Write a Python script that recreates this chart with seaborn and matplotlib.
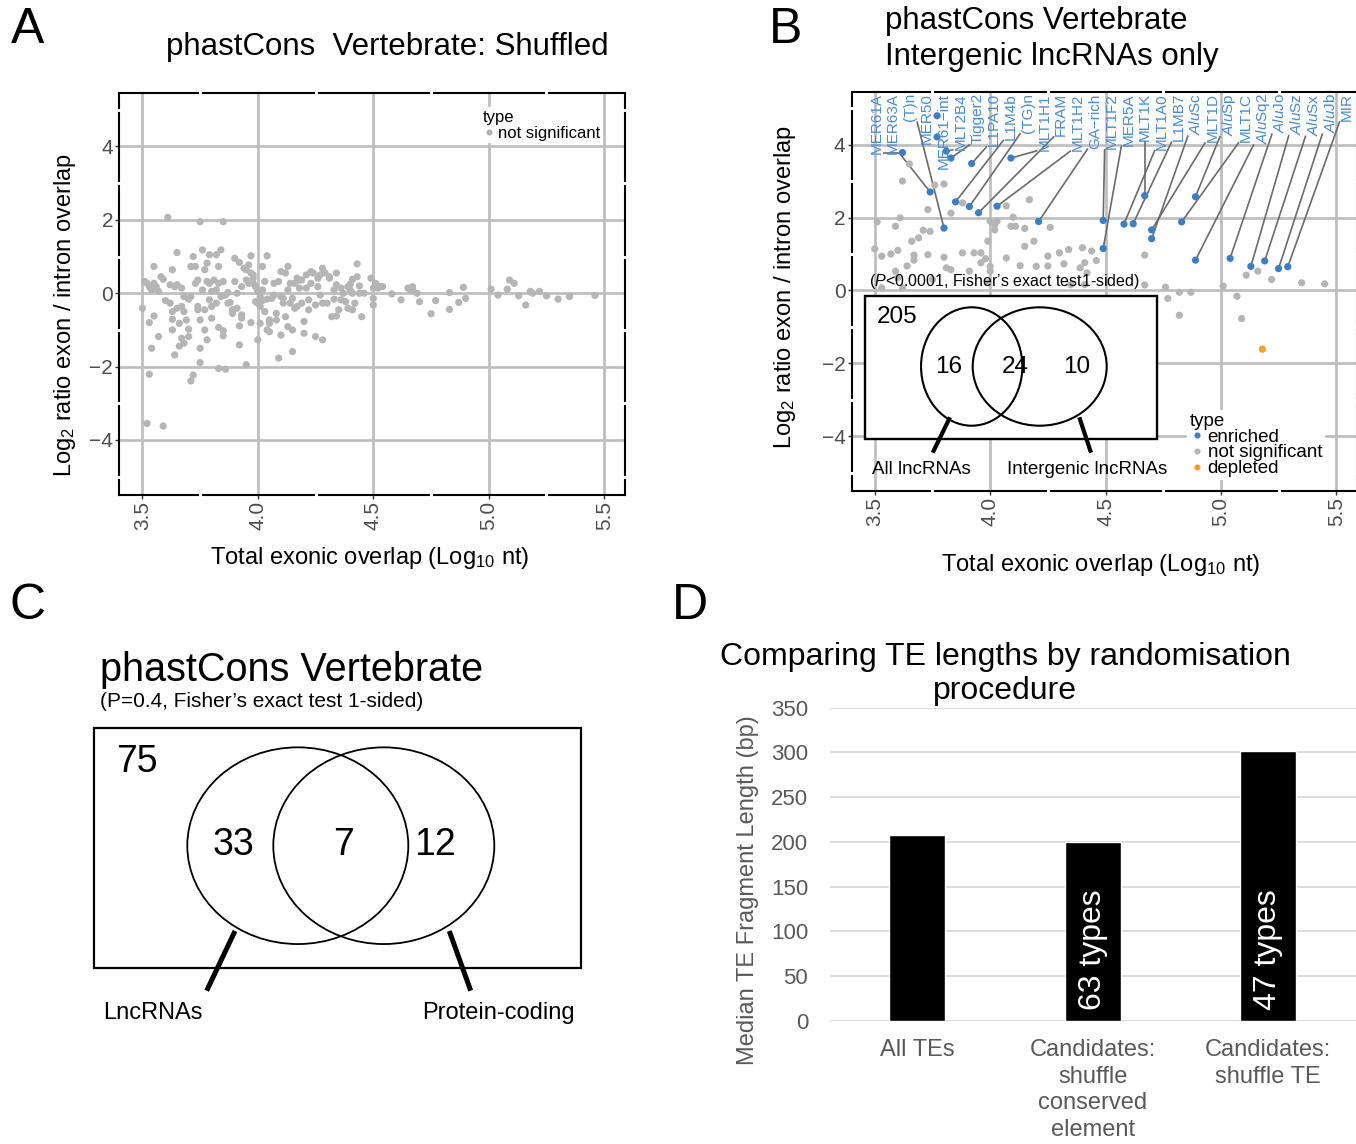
import numpy as np
import pandas as pd
import matplotlib
matplotlib.use("Agg")
import matplotlib.pyplot as plt
from matplotlib.patches import Rectangle, Ellipse
import seaborn as sns

# ---------------- Panel A: shuffled phastCons control ----------------
shuf_overlap = [
    3.50, 3.51, 3.52, 3.53, 3.54, 3.55, 3.56, 3.57, 3.55, 3.53,
    3.55, 3.54, 3.53, 3.52, 3.59, 3.57, 3.58, 3.59, 3.60, 3.61,
    3.62, 3.62, 3.63, 3.63, 3.63, 3.64, 3.64, 3.65, 3.65, 3.63,
    3.65, 3.66, 3.66, 3.67, 3.67, 3.67, 3.68, 3.68, 3.68, 3.69,
    3.70, 3.70, 3.70, 3.71, 3.71, 3.71, 3.72, 3.72, 3.73, 3.73,
    3.74, 3.74, 3.74, 3.75, 3.75, 3.75, 3.75, 3.76, 3.76, 3.77,
    3.77, 3.77, 3.78, 3.78, 3.78, 3.79, 3.79, 3.79, 3.80, 3.80,
    3.80, 3.81, 3.82, 3.82, 3.82, 3.83, 3.83, 3.83, 3.83, 3.84,
    3.84, 3.85, 3.85, 3.85, 3.85, 3.86, 3.86, 3.87, 3.87, 3.88,
    3.89, 3.89, 3.90, 3.90, 3.91, 3.91, 3.92, 3.92, 3.92, 3.93,
    3.93, 3.93, 3.94, 3.95, 3.95, 3.95, 3.96, 3.96, 3.97, 3.97,
    3.97, 3.98, 3.98, 3.98, 3.99, 3.99, 4.00, 4.00, 4.00, 4.00,
    4.01, 4.01, 4.01, 4.02, 4.02, 4.02, 4.03, 4.03, 4.04, 4.04,
    4.04, 4.05, 4.05, 4.05, 4.06, 4.07, 4.07, 4.08, 4.08, 4.09,
    4.09, 4.10, 4.10, 4.10, 4.11, 4.11, 4.12, 4.12, 4.13, 4.13,
    4.13, 4.14, 4.14, 4.15, 4.15, 4.15, 4.16, 4.16, 4.17, 4.17,
    4.18, 4.18, 4.19, 4.19, 4.20, 4.20, 4.21, 4.21, 4.22, 4.22,
    4.23, 4.23, 4.24, 4.25, 4.25, 4.26, 4.26, 4.27, 4.27, 4.28,
    4.28, 4.28, 4.29, 4.30, 4.31, 4.31, 4.32, 4.33, 4.33, 4.34,
    4.34, 4.34, 4.35, 4.36, 4.36, 4.37, 4.38, 4.39, 4.39, 4.40,
    4.40, 4.41, 4.41, 4.41, 4.42, 4.43, 4.43, 4.44, 4.44, 4.45,
    4.46, 4.49, 4.50, 4.50, 4.50, 4.51, 4.52, 4.53, 4.54, 4.58,
    4.62, 4.65, 4.66, 4.67, 4.67, 4.69, 4.70, 4.75, 4.77, 4.83,
    4.83, 4.87, 4.89, 4.90, 5.01, 5.04, 5.08, 5.09, 5.11, 5.13,
    5.16, 5.18, 5.19, 5.22, 5.25, 5.30, 5.35, 5.46,
]
shuf_ratio = [
    -0.41, 0.32, 0.27, 0.18, 0.09, 0.27, 0.18, 0.05, 0.73, -0.80,
    -0.62, -1.50, -2.21, -3.55, -3.62, -1.18, 0.45, 0.38, -0.20, 2.07,
    -0.27, 0.23, -0.50, -0.71, -1.00, -1.68, 0.18, 0.23, -0.41, 0.64,
    1.11, -1.44, -0.82, -1.23, 0.14, -0.36, -1.36, -0.09, -0.50, -0.73,
    -0.98, -1.18, -0.16, 0.73, -2.39, -0.09, 1.00, -2.23, 0.27, 0.73,
    0.36, -0.36, -0.45, -0.73, -1.50, 1.95, -1.89, 0.09, 1.18, -1.00,
    0.64, -0.45, -1.27, 0.82, 0.32, -0.18, 1.05, 0.27, 0.05, -0.36,
    -0.68, 0.36, 1.05, -0.27, 0.09, -0.93, -2.05, 0.73, 0.27, -0.09,
    1.18, 0.32, 1.95, -1.16, -1.02, -2.07, -0.05, 0.02, -0.27, -0.25,
    -0.45, -0.55, 0.95, 0.32, 0.00, -0.41, -1.41, -0.89, 0.84, 0.18,
    -0.59, -0.68, 0.68, 0.64, -1.95, 0.36, 0.27, 0.77, 1.02, -0.80,
    0.55, 0.41, 0.50, 0.27, -0.23, 0.18, 0.09, 0.05, -0.27, -1.27,
    -0.09, -0.36, -0.82, 0.09, 0.73, -0.20, -0.50, 0.32, -0.16, 1.02,
    -1.00, -1.05, -0.82, -0.73, -0.14, 0.27, -0.05, -0.55, -0.73, 0.32,
    -1.77, -0.09, -1.14, 0.59, -0.14, -0.27, 0.55, -0.64, 0.73, -0.91,
    0.09, -0.27, 0.27, -1.00, -0.14, -1.59, 0.27, -0.41, 0.41, -0.36,
    0.36, 0.14, -0.27, 0.36, -1.09, -0.77, 0.14, 0.50, -0.45, -0.18,
    0.27, 0.59, 0.55, -1.18, -0.32, 0.18, 0.41, -0.05, 0.50, 0.68,
    -1.27, -0.27, 0.56, -0.27, 0.41, 0.45, -0.64, 0.09, -0.16, -0.62,
    0.55, 0.23, -0.45, 0.14, -0.18, 0.00, -0.23, 0.18, -0.41, 0.09,
    0.25, 0.38, -0.45, 0.00, -0.27, 0.80, 0.45, 0.20, 0.00, -0.64,
    0.00, 0.41, 0.14, -0.14, -0.32, 0.27, 0.14, 0.18, 0.18, -0.02,
    -0.18, 0.14, 0.09, 0.18, 0.09, 0.00, -0.23, -0.56, -0.20, 0.02,
    -0.44, -0.25, 0.16, -0.14, 0.11, -0.05, 0.11, 0.36, 0.27, -0.07,
    -0.32, 0.05, 0.00, 0.05, -0.07, -0.16, -0.09, -0.06,
]

# ---------------- Panel B: intergenic lncRNAs ----------------
te_names = [
    "MER61A", "MER63A", "(T)n", "MER50", "MER61\u2212int", "MLT2B4", "Tigger2",
    "L1PA10", "L1M4b", "(TG)n", "MLT1H1", "FRAM", "MLT1H2", "GA\u2212rich",
    "MLT1F2", "MER5A", "MLT1K", "MLT1A0", "L1MB7", "$\\mathit{Alu}$Sc", "MLT1D",
    "$\\mathit{Alu}$Sp", "MLT1C", "$\\mathit{Alu}$Sq2", "$\\mathit{Alu}$Jo",
    "$\\mathit{Alu}$Sz", "$\\mathit{Alu}$Sx", "$\\mathit{Alu}$Jb", "MIR",
]
enr_overlap = [
    3.62, 3.74, 3.80, 3.77, 3.77, 3.81, 3.83, 3.92, 3.85, 3.91,
    4.09, 3.95, 4.03, 4.21, 4.49, 4.49, 4.67, 4.58, 4.62, 4.70,
    4.70, 4.89, 4.83, 4.89, 5.04, 5.13, 5.19, 5.25, 5.29,
]
enr_ratio = [
    3.78, 2.70, 1.71, 4.79, 4.21, 3.82, 3.63, 3.48, 2.43, 2.30,
    3.63, 2.13, 2.31, 1.89, 1.92, 1.15, 2.60, 1.82, 1.83, 1.42,
    1.66, 2.57, 1.88, 0.83, 0.88, 0.66, 0.81, 0.60, 0.65,
]
ns_overlap = [
    3.65, 3.62, 3.76, 3.80, 3.73, 3.61, 3.83, 3.88, 3.51, 3.59,
    3.71, 3.74, 3.66, 3.69, 3.50, 3.53, 3.57, 3.60, 3.67, 3.73,
    3.80, 3.64, 3.67, 3.88, 3.93, 3.96, 3.81, 3.83, 3.91, 4.00,
    4.02, 4.02, 4.03, 4.10, 4.09, 4.11, 4.15, 4.17, 4.19, 4.15,
    4.26, 3.96, 4.07, 4.25, 4.30, 4.34, 4.40, 4.44, 4.25, 4.32,
    4.39, 4.41, 4.42, 4.46, 4.67, 5.11, 5.16, 5.22, 5.35, 5.45,
    4.67, 4.76, 5.01, 4.35, 4.41, 3.99, 4.77, 4.82, 4.87, 4.82,
    5.07, 5.09, 3.60, 3.53, 3.62, 3.75, 4.00, 4.20, 3.59, 3.98,
    4.13, 3.99, 4.07, 4.00,
]
ns_ratio = [
    3.47, 3.00, 2.89, 2.92, 2.22, 1.99, 2.12, 2.40, 1.88, 1.76,
    1.65, 1.62, 1.35, 1.44, 1.14, 0.94, 1.00, 1.10, 0.97, 0.98,
    0.91, 0.67, 0.83, 1.03, 1.03, 1.03, 0.62, 0.57, 0.53, 1.90,
    1.81, 1.66, 1.90, 2.01, 1.76, 1.76, 1.70, 2.49, 1.35, 1.21,
    1.73, 0.76, 0.89, 0.94, 1.03, 1.12, 1.17, 1.08, 0.67, 0.73,
    0.62, 0.76, 0.48, 0.82, 0.97, 0.42, 0.53, 0.30, 0.21, 0.18,
    0.15, 0.09, 0.12, 0.16, 0.16, 0.21, -0.22, -0.05, -0.05, -0.68,
    -0.16, -0.77, 0.35, 0.07, 0.07, 0.30, 0.66, 0.66, 0.53, 0.87,
    0.68, 1.35, 2.32, 0.53,
]
dep_overlap = [5.18]
dep_ratio = [-1.61]

venn_b_counts = ["205", "16", "24", "10"]
venn_b_sets = ["All lncRNAs", "Intergenic lncRNAs"]
venn_c_counts = ["75", "33", "7", "12"]
venn_c_sets = ["LncRNAs", "Protein-coding"]

# ---------------- Panel D: TE fragment lengths ----------------
d_categories = ["All TEs", "Candidates:\nshuffle\nconserved\nelement", "Candidates:\nshuffle TE"]
d_median_len = [208, 200, 302]
d_bar_notes = ["", "63 types", "47 types"]

# ---------------- style ----------------
sns.set_theme(style="white")
plt.rcParams["font.family"] = ["Liberation Sans", "DejaVu Sans"]
plt.rcParams["mathtext.fontset"] = "custom"
plt.rcParams["mathtext.rm"] = "Liberation Sans"
plt.rcParams["mathtext.it"] = "Liberation Sans:italic"
plt.rcParams["mathtext.default"] = "regular"
plt.rcParams["axes.unicode_minus"] = True
plt.rcParams["text.color"] = "black"
plt.rcParams["axes.labelcolor"] = "black"

W, H = 1356, 1144
fig = plt.figure(figsize=(W / 100, H / 100), dpi=100)
fig.patch.set_facecolor("white")


def frame(l, t, r, b):
    return [l / W, 1 - b / H, (r - l) / W, (b - t) / H]


GRID = "#bdbdbd"
PT_GREY = "#b5b5b5"
PT_BLUE = "#3d7dc6"
TXT_BLUE = "#4a8bd3"
PT_ORANGE = "#f5a029"
XLIM = (3.40, 5.59)
YLIM = (-5.5, 5.45)
XLAB = "Total exonic overlap (Log$_{10}$ nt)"
YLAB = "Log$_2$ ratio exon / intron overlap"


def style_overlap_axes(ax):
    ax.set_xlim(*XLIM)
    ax.set_ylim(*YLIM)
    ax.set_xticks([3.5, 4.0, 4.5, 5.0, 5.5])
    ax.set_xticklabels(["3.5", "4.0", "4.5", "5.0", "5.5"], rotation=90)
    ax.set_yticks([-4, -2, 0, 2, 4])
    ax.grid(True, color=GRID, linewidth=1.9)
    ax.set_axisbelow(True)
    for sp in ax.spines.values():
        sp.set_visible(True)
        sp.set_color("black")
        sp.set_linewidth(1.5)
    ax.tick_params(bottom=True, left=True, length=3, width=1, color="#333333",
                   labelsize=15, labelcolor="#4d4d4d", pad=1.5)
    # white notches where the minor breaks meet the panel frame
    for xm in (3.75, 4.25, 4.75, 5.25):
        for y0, y1 in ((YLIM[0] - 0.06, YLIM[0] + 0.12), (YLIM[1] - 0.12, YLIM[1] + 0.06)):
            ax.plot([xm, xm], [y0, y1], color="white", lw=2.2, zorder=2.6,
                    clip_on=False, solid_capstyle="butt")
    for ym in (-5, -3, -1, 1, 3, 5):
        for x0, x1 in ((XLIM[0] - 0.012, XLIM[0] + 0.025), (XLIM[1] - 0.025, XLIM[1] + 0.012)):
            ax.plot([x0, x1], [ym, ym], color="white", lw=2.2, zorder=2.6,
                    clip_on=False, solid_capstyle="butt")


def legend_style(ax, anchor, size, spacing):
    sns.move_legend(ax, "upper left", bbox_to_anchor=anchor, title="type",
                    fontsize=size, title_fontsize=size, frameon=True,
                    markerscale=0.85, handletextpad=0.15, handlelength=0.8,
                    labelspacing=spacing, borderpad=0.15, borderaxespad=0,
                    alignment="left")
    leg = ax.get_legend()
    leg.get_frame().set_facecolor("white")
    leg.get_frame().set_edgecolor("none")
    leg.get_frame().set_alpha(1)
    leg.set_zorder(5)


# ---------------- Panel A ----------------
axA = fig.add_axes(frame(119.3, 93.3, 625, 495))
df_a = pd.DataFrame({"overlap": shuf_overlap, "ratio": shuf_ratio})
df_a["type"] = "not significant"
sns.scatterplot(data=df_a, x="overlap", y="ratio", hue="type",
                palette={"not significant": PT_GREY}, s=27, linewidth=0,
                ax=axA, zorder=3)
style_overlap_axes(axA)
axA.set_xlabel(XLAB, fontsize=17, va="center")
axA.xaxis.set_label_coords((370 - 119.3) / 505.7, (495 - 558) / 401.7)
axA.set_ylabel(YLAB, fontsize=17, va="center")
axA.yaxis.set_label_coords((65 - 119.3) / 505.7, (495 - 315) / 401.7)
legend_style(axA, ((480 - 119.3) / 505.7, (495 - 107) / 401.7), 12, 0.08)

# ---------------- Panel B ----------------
axB = fig.add_axes(frame(851.7, 91.7, 1357, 491))
df_b = pd.concat([
    pd.DataFrame({"overlap": ns_overlap, "ratio": ns_ratio, "type": "not significant"}),
    pd.DataFrame({"overlap": enr_overlap, "ratio": enr_ratio, "type": "enriched"}),
    pd.DataFrame({"overlap": dep_overlap, "ratio": dep_ratio, "type": "depleted"}),
], ignore_index=True)
sns.scatterplot(data=df_b, x="overlap", y="ratio", hue="type",
                hue_order=["enriched", "not significant", "depleted"],
                palette={"enriched": PT_BLUE, "not significant": PT_GREY, "depleted": PT_ORANGE},
                s=27, linewidth=0, ax=axB, zorder=3)
style_overlap_axes(axB)
axB.set_xlabel(XLAB, fontsize=17, va="center")
axB.xaxis.set_label_coords((1101 - 851.7) / 505.3, (491 - 565) / 399.3)
axB.set_ylabel(YLAB, fontsize=17, va="center")
axB.yaxis.set_label_coords((785 - 851.7) / 505.3, (491 - 287) / 399.3)
legend_style(axB, ((1187 - 851.7) / 505.3, (491 - 410) / 399.3), 13.5, -0.07)

label_x = np.linspace(3.507, 5.546, len(te_names))
te_texts = [
    axB.text(lx, 5.41, name, rotation=90, ha="center", va="top", fontsize=11,
             color=TXT_BLUE, zorder=4, clip_on=False)
    for lx, name in zip(label_x, te_names)
]

# ---------------- Panel D ----------------
axD = fig.add_axes(frame(829.8, 707.7, 1355.7, 1021))
sns.barplot(x=d_categories, y=d_median_len, color="black", saturation=1,
            width=0.32, ax=axD, zorder=3)
axD.set_xlim(-0.5, 2.5)
axD.set_ylim(0, 350)
axD.set_yticks(np.arange(0, 351, 50))
axD.grid(axis="y", color="#d9d9d9", linewidth=1.3)
axD.grid(axis="x", visible=False)
axD.set_axisbelow(True)
for sp in axD.spines.values():
    sp.set_visible(False)
axD.tick_params(axis="y", length=0, labelsize=16, labelcolor="#595959", pad=15.5)
axD.tick_params(axis="x", length=0, labelsize=17, labelcolor="#595959", pad=13)
for lab in axD.get_xticklabels():
    lab.set_linespacing(1.27)
axD.set_xlabel("")
axD.set_ylabel("Median TE Fragment Length (bp)", fontsize=17, color="#595959", va="center")
axD.yaxis.set_label_coords((748 - 829.8) / 525.9, (1021 - 890) / 313.3)
for i, note in enumerate(d_bar_notes):
    if note:
        axD.text(i, 80, note, rotation=90, ha="center", va="center",
                 color="white", fontsize=23, zorder=4)

# ---------------- titles, letters and Venn diagrams ----------------
ov = fig.add_axes([0, 0, 1, 1], zorder=10)
ov.set_xlim(0, W)
ov.set_ylim(H, 0)
ov.axis("off")

for letter, (lx, ly) in zip("ABCD", [(28, 30), (786, 30), (28, 606), (690, 606)]):
    ov.text(lx, ly, letter, fontsize=36, ha="center", va="center")

ov.text(387, 47, "phastCons  Vertebrate: Shuffled", fontsize=22.5, ha="center", va="center")
ov.text(885, 39, "phastCons Vertebrate\nIntergenic lncRNAs only", fontsize=22.5,
        ha="left", va="center", linespacing=1.3)
ov.text(100, 670, "phastCons Vertebrate", fontsize=28.5, ha="left", va="center")
ov.text(100, 701.7, "(P=0.4, Fisher\u2019s exact test 1-sided)", fontsize=15,
        ha="left", va="center")
ov.text(1005, 674, "Comparing TE lengths by randomisation\nprocedure", fontsize=23,
        ha="center", va="center", linespacing=1.2)

# inset Venn inside panel B
ov.text(869, 281.7, "($\\mathit{P}$<0.0001, Fisher\u2019s exact test1-sided)",
        fontsize=11.5, ha="left", va="center")
ov.add_patch(Rectangle((865, 296), 292.3, 143, facecolor="white", edgecolor="black", lw=1.7))
ov.add_patch(Ellipse((971.7, 366.5), 101.3, 118.4, fill=False, edgecolor="black", lw=1.5))
ov.add_patch(Ellipse((1039.7, 366.5), 134, 118.4, fill=False, edgecolor="black", lw=1.5))
ov.plot([950, 932.7], [417.3, 452.7], color="black", lw=3, solid_capstyle="butt")
ov.plot([1079.3, 1091], [417.3, 452.7], color="black", lw=3, solid_capstyle="butt")
for txt, (tx, ty) in zip(venn_b_counts, [(896.7, 316.7), (949, 366.7), (1015.7, 366.7), (1076.7, 366.7)]):
    ov.text(tx, ty, txt, fontsize=17.5, ha="center", va="center")
ov.text(921.7, 469, venn_b_sets[0], fontsize=13.5, ha="center", va="center")
ov.text(1087.3, 469.3, venn_b_sets[1], fontsize=13.5, ha="center", va="center")

# panel C Venn
ov.add_patch(Rectangle((94, 728.3), 487, 239.4, fill=False, edgecolor="black", lw=1.6))
ov.add_patch(Ellipse((297.8, 845.7), 221, 196.7, fill=False, edgecolor="black", lw=1.3))
ov.add_patch(Ellipse((383.8, 845.7), 221, 196.7, fill=False, edgecolor="black", lw=1.3))
ov.plot([235, 206.7], [931, 990.7], color="black", lw=3.6, solid_capstyle="butt")
ov.plot([449.3, 470.7], [931, 990.7], color="black", lw=3.6, solid_capstyle="butt")
for txt, (tx, ty) in zip(venn_c_counts, [(136.7, 761.7), (233.3, 845), (343.3, 845), (435, 845)]):
    ov.text(tx, ty, txt, fontsize=27, ha="center", va="center")
ov.text(153.3, 1013.3, venn_c_sets[0], fontsize=17, ha="center", va="center")
ov.text(498.3, 1013.3, venn_c_sets[1], fontsize=17, ha="center", va="center")

# leader lines from the TE family labels to their points
fig.canvas.draw()
renderer = fig.canvas.get_renderer()
inv = axB.transData.inverted()
for t, x, y in zip(te_texts, enr_overlap, enr_ratio):
    bb = t.get_window_extent(renderer)
    px, py = axB.transData.transform((x, y))
    cx = min(max(px, bb.x0), bb.x1)
    cy = min(max(py, bb.y0), bb.y1)
    if np.hypot(px - cx, py - cy) < 6:
        continue
    sx, sy = inv.transform((cx, cy))
    axB.plot([sx, x], [sy, y], color="#6b6b6b", lw=1.2, zorder=2.8, solid_capstyle="butt")

fig.savefig("out.png", dpi=100)
